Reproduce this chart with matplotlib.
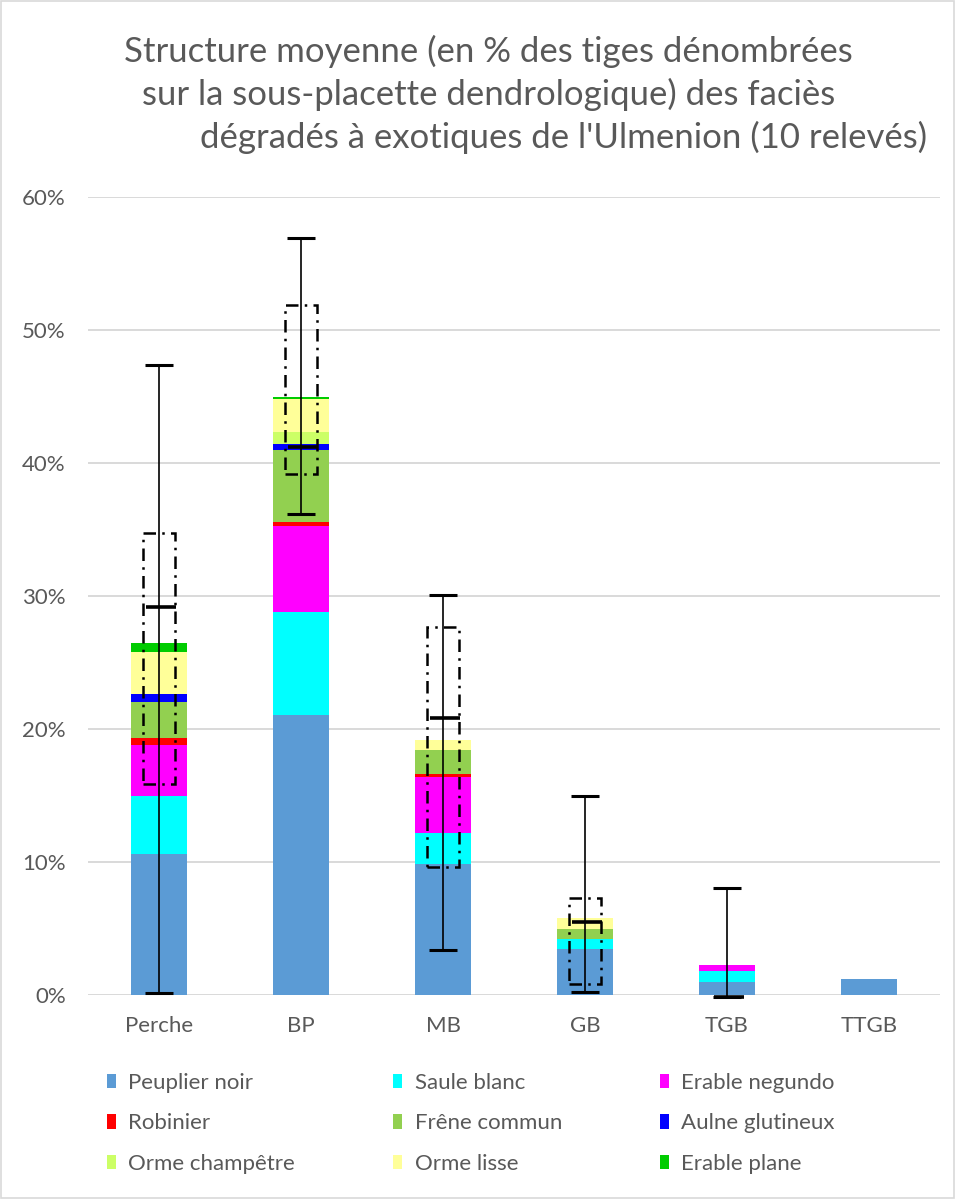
import numpy as np
import matplotlib
matplotlib.use('Agg')
import matplotlib.pyplot as plt
from matplotlib.patches import Rectangle, Patch
from matplotlib.ticker import PercentFormatter

plt.rcParams['font.family'] = ['Lato', 'DejaVu Sans']

categories = ['Perche', 'BP', 'MB', 'GB', 'TGB', 'TTGB']
species = ['Peuplier noir', 'Saule blanc', 'Erable negundo', 'Robinier',
           'Frêne commun', 'Aulne glutineux', 'Orme champêtre', 'Orme lisse',
           'Erable plane']
colors = ['#5b9bd5', '#00ffff', '#ff00ff', '#ff0000', '#92d050',
          '#0000ff', '#ccff66', '#ffff99', '#00cc00']

# % of stems per size class, stacked in the order of species
peuplier_noir = [10.6, 21.05, 9.85, 3.45, 1.0, 1.2]
saule_blanc = [4.4, 7.75, 2.35, 0.75, 0.8, 0.0]
erable_negundo = [3.8, 6.5, 4.2, 0.0, 0.45, 0.0]
robinier = [0.5, 0.3, 0.2, 0.0, 0.0, 0.0]
frene_commun = [2.7, 5.4, 1.8, 0.75, 0.0, 0.0]
aulne_glutineux = [0.6, 0.4, 0.0, 0.0, 0.0, 0.0]
orme_champetre = [0.0, 0.9, 0.0, 0.0, 0.0, 0.0]
orme_lisse = [3.2, 2.5, 0.8, 0.85, 0.0, 0.0]
erable_plane = [0.7, 0.2, 0.0, 0.0, 0.0, 0.0]

# min / max whiskers, dash-dot box and thick mark
whisker_low = [0.15, 36.2, 3.4, 0.2, -0.15, np.nan]
whisker_high = [47.4, 56.9, 30.1, 15.0, 8.05, np.nan]
box_low = [15.9, 39.2, 9.6, 0.8, np.nan, np.nan]
box_high = [34.7, 51.9, 27.7, 7.3, np.nan, np.nan]
mean_mark = [29.2, 41.2, 20.8, 5.5, -0.15, np.nan]

series = [peuplier_noir, saule_blanc, erable_negundo, robinier, frene_commun,
          aulne_glutineux, orme_champetre, orme_lisse, erable_plane]

W, H = 955, 1199
fig = plt.figure(figsize=(W / 100, H / 100), dpi=100)
ax = fig.add_axes([88 / W, 1 - 995 / H, 852 / W, 798 / H])

x = np.arange(len(categories))
bottom = np.zeros(len(categories))
for name, vals, col in zip(species, series, colors):
    vals = np.array(vals)
    ax.bar(x, vals, 0.4, bottom=bottom, color=col, label=name,
           linewidth=0, zorder=2)
    bottom += vals

# dash-dot boxes
for xi, lo, hi in zip(x, box_low, box_high):
    if np.isnan(lo):
        continue
    ax.add_patch(Rectangle((xi - 0.11, lo), 0.22, hi - lo, fill=False,
                           edgecolor='black', linewidth=1.8,
                           linestyle=(0, (5, 2.5, 1, 2.5)), zorder=3))

lo = np.array(whisker_low)
hi = np.array(whisker_high)
mid = (lo + hi) / 2
eb = ax.errorbar(x, mid, yerr=[mid - lo, hi - mid], fmt='none',
                 ecolor='black', elinewidth=1.2, capsize=10, capthick=2.2,
                 zorder=4)
for art in eb.lines[1] + eb.lines[2]:
    art.set_clip_on(False)

ax.hlines(mean_mark, x - 0.09, x + 0.12, colors='black', linewidth=2.6,
          zorder=5, clip_on=False)

ax.set_xlim(-0.5, 5.5)
ax.set_ylim(0, 60)
ax.set_yticks(np.arange(0, 61, 10))
ax.yaxis.set_major_formatter(PercentFormatter(100, decimals=0))
ax.set_xticks(x)
ax.set_xticklabels(categories)
ax.yaxis.grid(True, color='#d9d9d9', linewidth=1.4, zorder=0)
ax.set_axisbelow(True)
for s in ax.spines.values():
    s.set_visible(False)
ax.tick_params(length=0, labelsize=16, colors='#595959')
ax.tick_params(axis='x', pad=15)
ax.tick_params(axis='y', pad=16)

# title, three lines as in the original
title_lines = ['Structure moyenne (en % des tiges dénombrées',
               'sur la sous-placette dendrologique) des faciès',
               "dégradés à exotiques de l'Ulmenion (10 relevés)"]
title_x = [124, 142, 200]
title_y = [62, 105, 148]
for t, tx, ty in zip(title_lines, title_x, title_y):
    fig.text(tx / W, 1 - ty / H, t, fontsize=25, color='#595959',
             va='baseline', ha='left')

handles = [Patch(facecolor=c, edgecolor='none', label=s)
           for s, c in zip(species, colors)]
order = [0, 3, 6, 1, 4, 7, 2, 5, 8]
leg = fig.legend([handles[i] for i in order], [species[i] for i in order],
                 ncol=3, loc='upper left', bbox_to_anchor=(98 / W, 1 - 1064 / H),
                 frameon=False, fontsize=16, handlelength=0.42,
                 handleheight=0.6, handletextpad=0.55, columnspacing=4.4,
                 labelspacing=0.92, borderaxespad=0)
for t in leg.get_texts():
    t.set_color('#595959')

fig.add_artist(Rectangle((0.001, 0.001), 0.998, 0.998, transform=fig.transFigure,
                         fill=False, edgecolor='#d9d9d9', linewidth=1.2))

fig.savefig('out.png', dpi=100)
